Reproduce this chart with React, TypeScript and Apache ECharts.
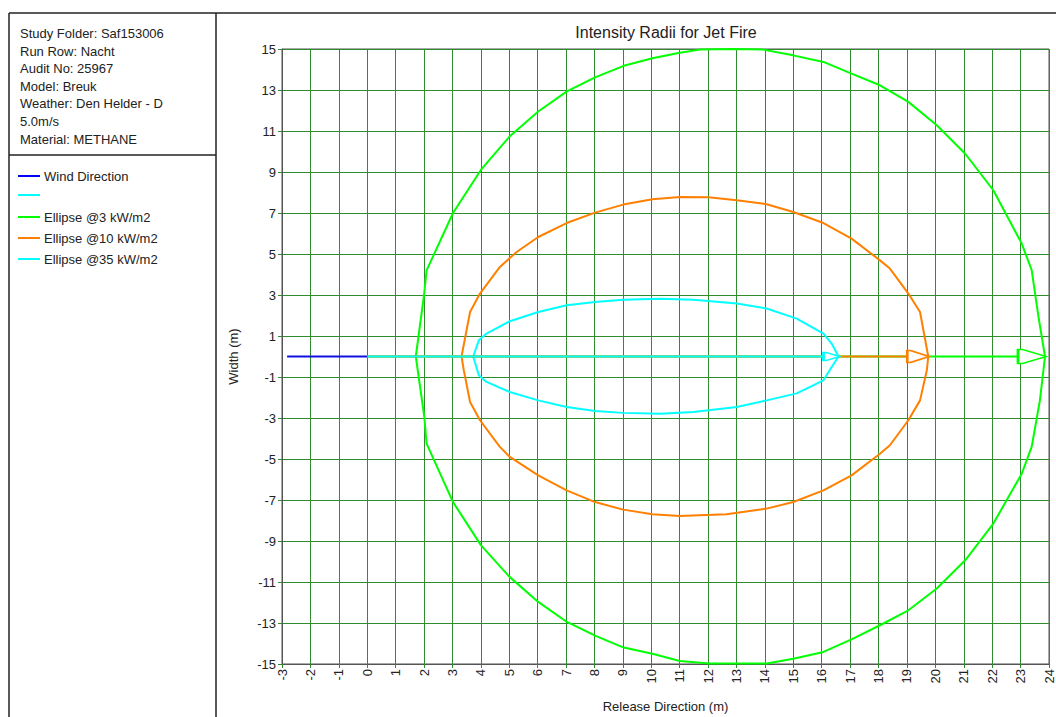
import React, { useEffect, useRef } from "react";
import * as echarts from "echarts";

const TITLE = "Intensity Radii for Jet Fire";
const X_NAME = "Release Direction (m)";
const Y_NAME = "Width (m)";
const INFO_LINES = [
  "Study Folder: Saf153006",
  "Run Row: Nacht",
  "Audit No: 25967",
  "Model: Breuk",
  "Weather: Den Helder - D",
  "5.0m/s",
  "Material: METHANE",
];
const LEGEND_NAMES = ["Wind Direction", "", "Ellipse @3 kW/m2", "Ellipse @10 kW/m2", "Ellipse @35 kW/m2"];
const LEGEND_COLORS = ["#0000ff", "#00ffff", "#00ff00", "#ff8000", "#00ffff"];

const X_MIN = -3;
const X_MAX = 24;
const Y_MIN = -15;
const Y_MAX = 15;
const Y_TICKS = [-15, -13, -11, -9, -7, -5, -3, -1, 1, 3, 5, 7, 9, 11, 13, 15];

const WIND = [[-2.82, 0], [0, 0]];
const GREEN_AXIS = [[0, 0], [23.86, 0]];
const ORANGE_AXIS = [[0, 0], [19.75, 0]];
const CYAN_AXIS = [[0, 0], [16.59, 0]];

const GREEN = [
  [1.71, 0], [2.0, 3.0], [2.09, 4.2], [3.02, 7.0], [4.0, 9.1], [5.01, 10.73], [6.02, 11.95], [7.03, 12.93],
  [8.04, 13.63], [9.03, 14.18], [10.04, 14.55], [11.0, 14.82], [11.71, 14.97], [12.89, 15.0], [13.94, 14.97],
  [14.99, 14.69], [16.06, 14.37], [17.05, 13.8], [18.05, 13.23], [19.05, 12.42], [20.05, 11.28], [21.05, 9.89],
  [22.04, 8.11], [23.04, 5.51], [23.39, 4.21], [23.63, 1.93], [23.86, 0],
  [23.68, -2.14], [23.39, -4.41], [23.04, -5.72], [22.04, -8.15], [21.05, -9.94], [20.05, -11.32], [19.05, -12.38],
  [18.05, -13.11], [17.05, -13.8], [16.06, -14.41], [15.0, -14.74], [14.06, -14.98], [12.06, -14.98], [11.0, -14.85],
  [10.04, -14.5], [9.03, -14.2], [8.04, -13.63], [7.03, -12.95], [6.02, -11.97], [5.01, -10.75], [4.0, -9.2],
  [3.02, -7.1], [2.09, -4.25], [2.01, -2.95], [1.71, 0],
];
const ORANGE = [
  [3.32, 0], [3.62, 2.17], [3.97, 3.07], [4.67, 4.37], [5.26, 5.1], [6.02, 5.83], [7.02, 6.51], [8.02, 7.02],
  [9.01, 7.41], [10.04, 7.67], [11.01, 7.78], [12.01, 7.77], [13.01, 7.62], [14.06, 7.43], [15.0, 7.05],
  [16.06, 6.51], [17.05, 5.75], [18.05, 4.69], [18.4, 4.29], [19.05, 3.07], [19.46, 2.17], [19.75, 0],
  [19.7, -0.67], [19.46, -2.14], [19.05, -3.11], [18.4, -4.33], [18.05, -4.74], [17.05, -5.8], [16.06, -6.53],
  [15.0, -7.1], [14.06, -7.42], [12.65, -7.7], [11.0, -7.78], [10.04, -7.7], [9.01, -7.47], [8.02, -7.1],
  [7.02, -6.53], [6.02, -5.8], [5.02, -4.9], [4.67, -4.41], [3.97, -3.11], [3.62, -2.22], [3.4, -0.67], [3.32, 0],
];
const CYAN = [
  [3.73, 0], [3.93, 0.79], [4.2, 1.12], [5.02, 1.72], [6.02, 2.17], [7.02, 2.5], [8.02, 2.66], [9.01, 2.77],
  [10.31, 2.82], [11.48, 2.77], [13.01, 2.58], [14.06, 2.34], [15.12, 1.85], [16.06, 1.12], [16.35, 0.63], [16.59, 0],
  [16.35, -0.51], [16.06, -1.16], [15.12, -1.8], [14.06, -2.14], [13.01, -2.46], [11.48, -2.71], [10.31, -2.79],
  [9.01, -2.75], [8.02, -2.66], [7.02, -2.46], [6.02, -2.14], [5.02, -1.73], [4.2, -1.24], [3.93, -0.92], [3.73, 0],
];

const FONT = 'Arial, "Liberation Sans", sans-serif';
const GRID_COLOR = "#2e8b2e";
const ARROW = "path://M0,0 L3,0 L20,5 L3,10 L0,10 Z";

function ellipseSeries(name: string, data: number[][], color: string) {
  return {
    type: "line",
    name,
    data,
    showSymbol: false,
    symbol: "none",
    smooth: false,
    lineStyle: { color, width: 2 },
    z: 3,
  };
}

function axisSeries(name: string, data: number[][], color: string, size: number[]) {
  const pts = data.map((p, i) =>
    i === data.length - 1
      ? { value: p, symbol: ARROW, symbolSize: size, symbolOffset: [-size[0] / 2 + 1, 0] }
      : { value: p, symbol: "none" }
  );
  return {
    type: "line",
    name,
    data: pts,
    showSymbol: true,
    symbol: ARROW,
    lineStyle: { color, width: 2 },
    itemStyle: { color: "#ffffff", borderColor: color, borderWidth: 2 },
    z: 4,
  };
}

export default function App() {
  const ref = useRef<HTMLDivElement>(null);
  useEffect(() => {
    if (!ref.current) return;
    const chart = echarts.init(ref.current, undefined, { renderer: "svg" });
    const graphics: any[] = [
      { type: "line", shape: { x1: 9, y1: 13, x2: 1056, y2: 13 }, style: { stroke: "#222", lineWidth: 1.5 } },
      { type: "line", shape: { x1: 9, y1: 13, x2: 9, y2: 717 }, style: { stroke: "#222", lineWidth: 1.5 } },
      { type: "line", shape: { x1: 216, y1: 13, x2: 216, y2: 717 }, style: { stroke: "#222", lineWidth: 1.5 } },
      { type: "line", shape: { x1: 9, y1: 155, x2: 216, y2: 155 }, style: { stroke: "#222", lineWidth: 1.5 } },
      {
        type: "text",
        x: 666,
        y: 32,
        style: { text: TITLE, fontSize: 16, fontFamily: FONT, fill: "#222", align: "center", verticalAlign: "middle" },
      },
    ];
    const infoY = [33, 51, 68, 86, 103, 121, 139];
    INFO_LINES.forEach((t, i) => {
      graphics.push({
        type: "text",
        x: 20,
        y: infoY[i],
        style: { text: t, fontSize: 13, fontFamily: FONT, fill: "#222", verticalAlign: "middle" },
      });
    });
    const legY = [176, 195, 217, 238, 259];
    LEGEND_NAMES.forEach((t, i) => {
      graphics.push({
        type: "line",
        shape: { x1: 18, y1: legY[i], x2: 40, y2: legY[i] },
        style: { stroke: LEGEND_COLORS[i], lineWidth: 2 },
      });
      if (t) {
        graphics.push({
          type: "text",
          x: 44,
          y: legY[i],
          style: { text: t, fontSize: 13, fontFamily: FONT, fill: "#222", verticalAlign: "middle" },
        });
      }
    });

    chart.setOption({
      animation: false,
      backgroundColor: "#ffffff",
      textStyle: { fontFamily: FONT },
      grid: {
        left: 282,
        right: 7,
        top: 49,
        bottom: 53,
        show: true,
        borderColor: "#555",
        borderWidth: 1,
        containLabel: false,
        outerBoundsMode: "none",
      },
      xAxis: {
        type: "value",
        min: X_MIN,
        max: X_MAX,
        interval: 1,
        name: X_NAME,
        nameLocation: "middle",
        nameGap: 36,
        nameTextStyle: { fontSize: 13, color: "#222", fontFamily: FONT },
        axisLine: { show: true, onZero: false, lineStyle: { color: "#555", width: 1 } },
        axisTick: { show: true, length: 4, lineStyle: { color: GRID_COLOR } },
        axisLabel: { rotate: 90, fontSize: 13, color: "#222", margin: 5, fontFamily: FONT },
        splitLine: { show: true, lineStyle: { color: GRID_COLOR, width: 1 } },
      },
      yAxis: {
        type: "value",
        min: Y_MIN,
        max: Y_MAX,
        interval: 1,
        name: Y_NAME,
        nameLocation: "middle",
        nameGap: 42,
        nameTextStyle: { fontSize: 13, color: "#222", fontFamily: FONT },
        axisLine: { show: true, onZero: false, lineStyle: { color: "#555", width: 1 } },
        axisTick: { show: true, length: 4, lineStyle: { color: GRID_COLOR }, customValues: Y_TICKS },
        axisLabel: { fontSize: 13, color: "#222", margin: 6, fontFamily: FONT, customValues: Y_TICKS },
        splitLine: { show: true, lineStyle: { color: GRID_COLOR, width: 1 } },
      },
      graphic: graphics,
      series: [
        ellipseSeries("Ellipse @3 kW/m2", GREEN, "#00ff00"),
        ellipseSeries("Ellipse @10 kW/m2", ORANGE, "#ff8000"),
        ellipseSeries("Ellipse @35 kW/m2", CYAN, "#00ffff"),
        axisSeries("axis3", GREEN_AXIS, "#00ff00", [28, 14]),
        axisSeries("axis10", ORANGE_AXIS, "#ff8000", [22, 12]),
        axisSeries("axis35", CYAN_AXIS, "#00ffff", [16, 8]),
        {
          type: "line",
          name: "Wind Direction",
          data: WIND,
          showSymbol: false,
          symbol: "none",
          lineStyle: { color: "#1010e0", width: 2 },
          z: 5,
        },
      ],
    });
    return () => chart.dispose();
  }, []);
  return <div ref={ref} style={{ position: "fixed", left: 0, top: 0, width: 1056, height: 717 }} />;
}
